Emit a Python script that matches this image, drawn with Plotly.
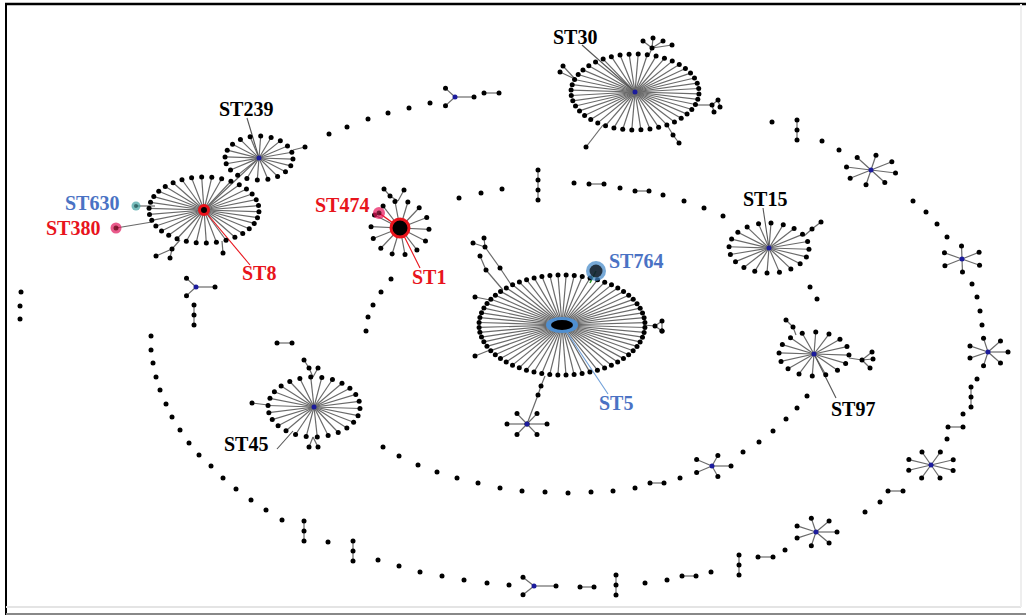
import numpy as np
import plotly.graph_objects as go

# ---------------- data (positions, pixel space) ----------------
hub_name = ["ST5", "ST30", "ST8", "ST239", "ST1", "ST15", "ST97", "ST45"]
hub_x = [562, 635, 204, 259, 400, 769, 814, 314]
hub_y = [325, 92, 210, 158, 228, 248, 354, 407]
hub_n = [64, 44, 34, 20, 14, 20, 16, 26]
hub_rx = [83, 64, 55, 34, 29, 40, 35, 46]
hub_ry = [50, 38, 33, 22, 27, 25, 22, 30]

# small blue-centred stars
star_x = [871, 962, 988, 931, 816, 712, 527, 455, 196, 534]
star_y = [170, 259, 352, 465, 532, 466, 424, 97, 287, 586]
star_n = [8, 6, 7, 8, 7, 5, 6, 3, 3, 3]
star_rx = [25, 20, 20, 24, 21, 19, 20, 19, 19, 22]
star_ry = [15, 13, 14, 14, 14, 11, 12, 10, 10, 10]
star_rot = [0.2, 0.5, 0.0, 0.4, 0.0, 0.0, 0.0, 0.0, 0.0, 0.0]

# isolated single STs
single_x = [21, 20, 20, 329, 347, 368, 388, 409, 430,
            459, 481, 502, 574, 620, 663, 684, 704, 723, 810, 817,
            807, 797, 786, 773, 759, 743, 680, 635, 613, 591, 568, 545, 522, 500, 478, 457, 437, 418, 399, 383,
            373, 368, 366, 391, 381,
            151, 151, 153, 156, 160, 166, 172, 180, 189, 199, 211, 223, 236, 251, 266, 282, 328,
            378, 399, 420, 442, 464, 487, 509, 645, 667, 711, 785, 865, 880, 947, 963, 977,
            980, 982, 972, 977, 947, 937, 926, 913, 839, 822, 772]
single_y = [292, 306, 319, 134, 127, 119, 113, 108, 103,
            198, 193, 189, 183, 188, 195, 201, 208, 216, 287, 299,
            396, 408, 419, 431, 442, 452, 478, 488, 491, 492, 493, 492, 491, 488, 483, 478, 472, 465, 456, 447,
            305, 317, 331, 279, 292,
            336, 350, 363, 377, 390, 404, 417, 430, 443, 455, 466, 478, 489, 500, 510, 520, 542,
            560, 566, 572, 576, 580, 583, 585, 583, 580, 572, 550, 512, 502, 439, 414, 379,
            311, 325, 284, 297, 237, 224, 212, 201, 150, 141, 122]

# connected pairs (horizontal)
pair_x0 = [589, 635, 650, 682, 758, 888, 948, 277, 484, 580]
pair_x1 = [604, 649, 664, 696, 773, 903, 963, 292, 499, 594]
pair_y = [184, 191, 483, 576, 557, 491, 427, 343, 93, 587]

# vertical chains (x, top y, count)
chain_x = [538, 797, 304, 353, 616, 739, 971, 194]
chain_y0 = [170, 120, 521, 541, 575, 555, 387, 305]
chain_n = [4, 3, 3, 3, 3, 3, 3, 3]

# extra twigs hanging from hubs/stars (from -> to)
twig_x0 = [643, 655, 655, 662,
           512, 500, 485, 485, 503, 486, 490, 490,
           649, 652, 652, 652, 652, 695, 712, 712, 718, 575, 575, 667, 673, 603,
           180, 172, 172, 222, 293, 804, 812, 796, 793, 849, 862, 862, 862, 313, 309, 313, 313, 313, 268,
           398, 390, 398, 545, 541, 538]
twig_y0 = [325, 326, 326, 321,
           286, 268, 247, 247, 290, 270, 300, 350,
           55, 48, 48, 48, 48, 105, 105, 105, 100, 79, 79, 125, 135, 125,
           240, 249, 249, 241, 150, 236, 229, 335, 327, 358, 360, 360, 360, 377, 368, 377, 437, 437, 405,
           201, 196, 201, 376, 386, 395]
twig_x1 = [655, 662, 662, 662,
           500, 485, 473, 484, 486, 480, 475, 475,
           652, 643, 653, 663, 672, 712, 718, 714, 720, 563, 560, 673, 679, 586,
           172, 156, 170, 223, 305, 812, 821, 793, 786, 862, 872, 873, 870, 309, 304, 318, 309, 318, 252,
           390, 384, 404, 541, 538, 527]
twig_y1 = [326, 321, 331, 331,
           268, 247, 243, 238, 270, 256, 297, 356,
           48, 41, 38, 41, 45, 105, 100, 112, 107, 66, 72, 135, 143, 147,
           249, 256, 258, 253, 147, 229, 222, 327, 320, 360, 352, 359, 368, 368, 360, 368, 447, 447, 403,
           196, 189, 190, 386, 395, 424]

# labels
label_text = ["ST30", "ST239", "ST630", "ST380", "ST8", "ST474", "ST1", "ST764", "ST5", "ST15", "ST97", "ST45"]
label_x = [575, 246, 92, 73, 259, 342, 429, 636, 616, 765, 853, 246]
label_y = [37, 109, 203, 228, 273, 205, 277, 261, 403, 199, 409, 444]
label_color = ["black", "black", "#4a72c4", "#e8141c", "#e8141c", "#e8141c", "#e8141c",
               "#4a72c4", "#4a72c4", "black", "black", "black"]

# special coloured nodes (ST630, ST380, ST474, ST764)
special_x = [136, 116, 379, 596]
special_y = [206, 228, 213, 271]

# leader lines: label anchor -> node
lead_x0 = [582, 247, 250, 420, 608, 763, 836, 277]
lead_y0 = [45, 118, 265, 268, 394, 208, 398, 449]
lead_x1 = [635, 259, 204, 400, 562, 769, 814, 293]
lead_y1 = [92, 158, 210, 228, 325, 248, 354, 431]
lead_color = ["#555555", "#555555", "#e8141c", "#e8141c", "#6f9fd8", "#555555", "#555555", "#555555"]

# ---------------- build geometry ----------------
ex, ey = [], []
nx, ny = [], []


def add_edge(x0, y0, x1, y1):
    ex.extend([x0, x1, None])
    ey.extend([y0, y1, None])


for i in range(len(hub_name)):
    ang = np.linspace(0, 2 * np.pi, hub_n[i], endpoint=False) + 0.05
    lx = hub_x[i] + hub_rx[i] * np.cos(ang)
    ly = hub_y[i] + hub_ry[i] * np.sin(ang)
    for a, b in zip(lx, ly):
        add_edge(hub_x[i], hub_y[i], a, b)
        nx.append(a)
        ny.append(b)

for i in range(len(star_x)):
    ang = np.linspace(0, 2 * np.pi, star_n[i], endpoint=False) + star_rot[i]
    lx = star_x[i] + star_rx[i] * np.cos(ang)
    ly = star_y[i] + star_ry[i] * np.sin(ang)
    for a, b in zip(lx, ly):
        add_edge(star_x[i], star_y[i], a, b)
        nx.append(a)
        ny.append(b)

for i in range(len(pair_x0)):
    add_edge(pair_x0[i], pair_y[i], pair_x1[i], pair_y[i])
    nx += [pair_x0[i], pair_x1[i]]
    ny += [pair_y[i], pair_y[i]]

for i in range(len(chain_x)):
    ys = [chain_y0[i] + 10 * k for k in range(chain_n[i])]
    add_edge(chain_x[i], ys[0], chain_x[i], ys[-1])
    nx += [chain_x[i]] * len(ys)
    ny += ys

for i in range(len(twig_x0)):
    add_edge(twig_x0[i], twig_y0[i], twig_x1[i], twig_y1[i])
    nx.append(twig_x1[i])
    ny.append(twig_y1[i])

# links between components
add_edge(hub_x[2], hub_y[2], hub_x[3], hub_y[3])                    # ST8 - ST239
add_edge(special_x[0], special_y[0], hub_x[2] - 49, hub_y[2] - 4)   # ST630
add_edge(special_x[1], special_y[1], hub_x[2] - 52, hub_y[2] + 12)  # ST380

nx += single_x
ny += single_y

fig = go.Figure()
fig.add_trace(go.Scatter(x=ex, y=ey, mode="lines", line=dict(color="#6a6a6a", width=1.2),
                         hoverinfo="skip", showlegend=False))
# coloured links
fig.add_trace(go.Scatter(x=[special_x[2], hub_x[4]], y=[special_y[2], hub_y[4]], mode="lines",
                         line=dict(color="#e8141c", width=1.5), showlegend=False, hoverinfo="skip"))
fig.add_trace(go.Scatter(x=[special_x[3], special_x[3] - 6], y=[special_y[3], special_y[3] + 12], mode="lines",
                         line=dict(color="#2ca02c", width=1.5), showlegend=False, hoverinfo="skip"))
for i in range(len(lead_x0)):
    fig.add_trace(go.Scatter(x=[lead_x0[i], lead_x1[i]], y=[lead_y0[i], lead_y1[i]], mode="lines",
                             line=dict(color=lead_color[i], width=1.1), showlegend=False, hoverinfo="skip"))

fig.add_trace(go.Scatter(x=nx, y=ny, mode="markers", marker=dict(color="black", size=5),
                         showlegend=False, hoverinfo="skip"))
# blue star centres and small hubs
fig.add_trace(go.Scatter(x=star_x + [hub_x[1], hub_x[3], hub_x[5], hub_x[6], hub_x[7]],
                         y=star_y + [hub_y[1], hub_y[3], hub_y[5], hub_y[6], hub_y[7]],
                         mode="markers", marker=dict(color="#1c1c9c", size=5),
                         showlegend=False, hoverinfo="skip"))
# ST8
fig.add_trace(go.Scatter(x=[hub_x[2]], y=[hub_y[2]], mode="markers",
                         marker=dict(color="black", size=9, line=dict(color="#e8141c", width=3)),
                         showlegend=False, hoverinfo="skip"))
# ST1
fig.add_trace(go.Scatter(x=[hub_x[4]], y=[hub_y[4]], mode="markers",
                         marker=dict(color="black", size=18, line=dict(color="#e8141c", width=3)),
                         showlegend=False, hoverinfo="skip"))
# ST630, ST380, ST474, ST764 (outer ring then inner core)
fig.add_trace(go.Scatter(x=special_x, y=special_y, mode="markers",
                         marker=dict(color=["#3fa0a0", "#e0145a", "#e8145a", "#3d85c6"],
                                     size=[9, 11, 12, 20], line=dict(width=0)),
                         showlegend=False, hoverinfo="skip"))
fig.add_trace(go.Scatter(x=special_x, y=special_y, mode="markers",
                         marker=dict(color=["#1f4f4f", "#5a0010", "#3a0010", "black"],
                                     size=[4, 5, 5, 13], line=dict(width=0)),
                         showlegend=False, hoverinfo="skip"))

# ST5 ellipse hub
cx, cy = hub_x[0], hub_y[0]
fig.add_shape(type="circle", x0=cx - 16, x1=cx + 16, y0=cy - 8, y1=cy + 8,
              fillcolor="#4f8fd0", line=dict(width=0), layer="above")
fig.add_shape(type="circle", x0=cx - 11, x1=cx + 11, y0=cy - 5, y1=cy + 5,
              fillcolor="black", line=dict(width=0), layer="above")

for t, x, y, c in zip(label_text, label_x, label_y, label_color):
    fig.add_annotation(x=x, y=y, text="<b>%s</b>" % t, showarrow=False,
                       font=dict(family="Liberation Serif", size=20, color=c))

# frame
fig.add_shape(type="line", x0=5, x1=1026, y0=4, y1=4, line=dict(color="black", width=2.5))
fig.add_shape(type="line", x0=6, x1=6, y0=4, y1=615, line=dict(color="black", width=2))
fig.add_shape(type="line", x0=6, x1=1026, y0=614, y1=614, line=dict(color="#888888", width=2))
fig.add_shape(type="line", x0=6, x1=1021, y0=607, y1=607, line=dict(color="#e4e4e4", width=2))
fig.add_shape(type="line", x0=1021, x1=1021, y0=4, y1=607, line=dict(color="#eeeeee", width=2))

fig.update_layout(width=1026, height=615, margin=dict(l=0, r=0, t=0, b=0),
                  plot_bgcolor="white", paper_bgcolor="white",
                  xaxis=dict(range=[0, 1026], visible=False, fixedrange=True),
                  yaxis=dict(range=[615, 0], visible=False, fixedrange=True))
fig.write_html("out.html", config={"displayModeBar": False},
               post_script="document.body.style.margin='0px';document.body.style.overflow='hidden';")
